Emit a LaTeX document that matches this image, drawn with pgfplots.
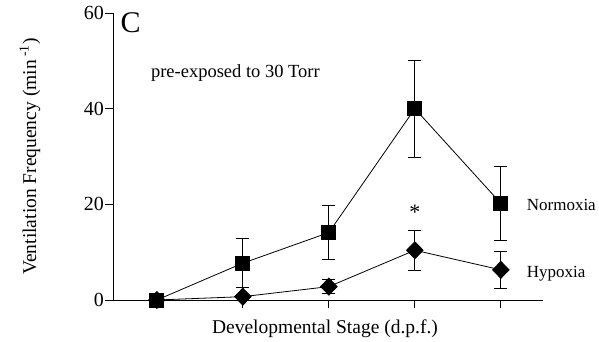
\documentclass[border=0pt]{standalone}
\usepackage{pgfplots}
\pgfplotsset{compat=1.18}
\usepackage{fontspec}
\setmainfont{Liberation Serif}

\newcommand{\ticksize}{\fontsize{20}{22}\selectfont}
\begin{document}
\begin{tikzpicture}
\begin{axis}[
  scale only axis,
  width=430pt, height=287pt,
  xmin=-0.51, xmax=4.49,
  ymin=0, ymax=60,
  axis x line*=bottom, axis y line*=left,
  axis line style={line width=0.8pt},
  xtick={1,2,3,4}, xticklabels={},
  ytick={0,20,40,60},
  yticklabels={{\ticksize 0},{\ticksize 20},{\ticksize 40},{\ticksize 60}},
  tick align=outside,
  major tick length=8pt,
  tick style={black, line width=0.8pt},
  yticklabel style={inner sep=1pt},
  xlabel={Developmental Stage (d.p.f.)},
  ylabel={Ventilation Frequency (min\textsuperscript{ -1})},
  every axis x label/.style={at={(axis description cs:0.493,-0.115)}, anchor=base,
    font=\fontsize{19.5}{22}\selectfont},
  every axis y label/.style={at={(axis description cs:-0.193,0.5)}, rotate=90, anchor=center,
    font=\fontsize{19.5}{22}\selectfont},
  clip=false,
]
% Normoxia
\addplot+[black, line width=0.8pt, mark=square*, mark size=7pt,
  mark options={solid, fill=black},
  error bars/.cd, y dir=both, y explicit,
  error bar style={line width=0.9pt},
  error mark options={rotate=90, mark size=6.5pt, line width=0.9pt}]
  table[x=x, y=y, y error plus=ep, y error minus=em] {
  x y ep em
  0 0    0   0
  1 7.7  5.1 5.1
  2 14.1 5.7 5.7
  3 40.0 10.1 10.2
  4 20.2 7.7 7.7
};
% Hypoxia
\addplot+[black, line width=0.8pt, mark=diamond*, mark size=8.5pt,
  mark options={solid, fill=black, xscale=1.3},
  error bars/.cd, y dir=both, y explicit,
  error bar style={line width=0.9pt},
  error mark options={rotate=90, mark size=6.5pt, line width=0.9pt}]
  table[x=x, y=y, y error plus=ep, y error minus=em] {
  x y ep em
  0 0    0   0
  1 0.7  0   0
  2 2.8  1.4 1.4
  3 10.4 4.2 4.2
  4 6.3  3.8 3.8
};
\node[font=\fontsize{30}{32}\selectfont, anchor=base west, inner sep=0pt] at (axis cs:-0.425,55.9) {C};
\node[font=\fontsize{18.5}{20}\selectfont, anchor=base west, inner sep=0pt] at (axis cs:-0.07,46.6) {pre-exposed to 30 Torr};
\node[font=\fontsize{22}{24}\selectfont] at (axis cs:3,18.3) {*};
\node[font=\fontsize{17}{20}\selectfont, anchor=base west, inner sep=0pt] at (axis cs:4.3,18.8) {Normoxia};
\node[font=\fontsize{17}{20}\selectfont, anchor=base west, inner sep=0pt] at (axis cs:4.3,4.6) {Hypoxia};
\end{axis}
\pgfresetboundingbox
\path[use as bounding box] (-113pt,-42pt) rectangle (486pt,300pt);
\end{tikzpicture}
\end{document}
